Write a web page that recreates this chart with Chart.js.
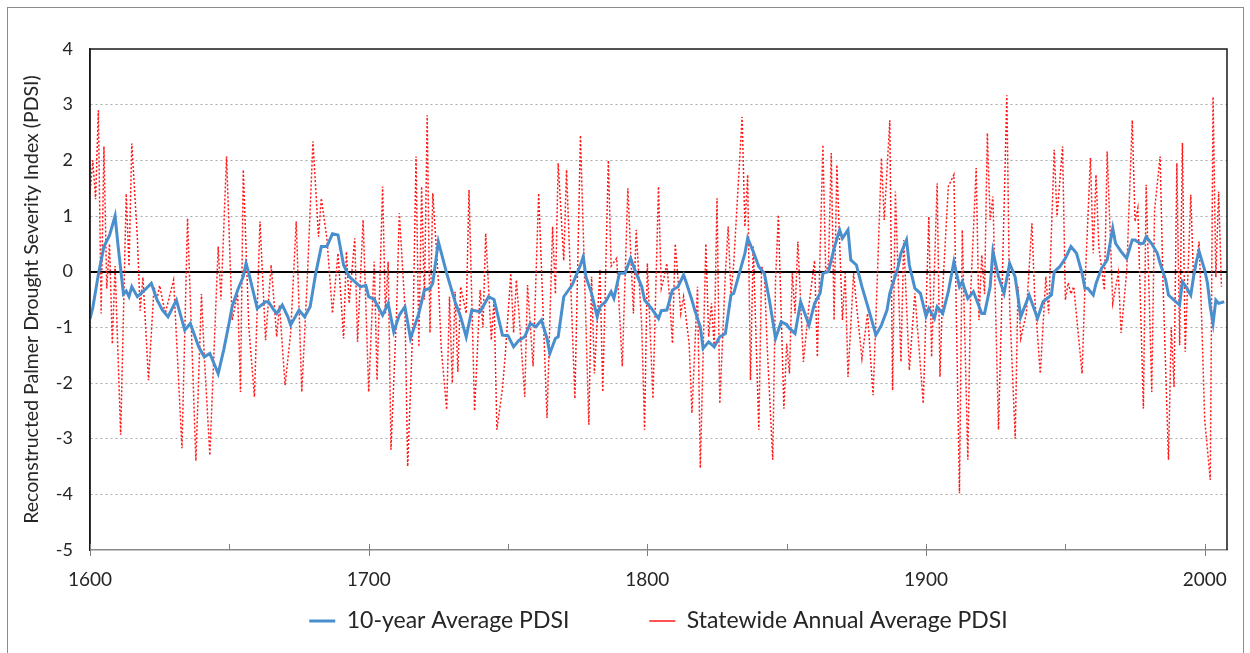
<!DOCTYPE html>
<html>
<head>
<meta charset="utf-8">
<script src="https://cdn.jsdelivr.net/npm/chart.js@4.4.1/dist/chart.umd.min.js"></script>
<style>
    html, body { margin: 0; padding: 0; background: #fff; }
    #frame { position: absolute; left: 7px; top: 7px; width: 1237px; height: 670px; border: 1px solid #8c8c8c; box-sizing: border-box; }
    #wrap { position: absolute; left: 0; top: 0; width: 1250px; height: 653px; }
</style>
</head>
<body>
<div id="frame"></div>
<div id="wrap"><canvas id="pdsiChart" width="1250" height="653"></canvas></div>
<script>
// Statewide annual average PDSI (turning points)
const annualYears = [
    1600, 1601, 1602, 1603, 1604, 1605, 1606, 1607, 1608, 1609, 1611, 1613, 1614, 1615, 1617, 1618, 1619, 1621, 1623, 1624,
    1625, 1627, 1630, 1633, 1635, 1638, 1640, 1641, 1643, 1646, 1647, 1649, 1651, 1653, 1654, 1655, 1657, 1659, 1661, 1663,
    1665, 1667, 1668, 1670, 1672, 1674, 1676, 1678, 1680, 1682, 1683, 1685, 1687, 1689, 1691, 1692, 1693, 1695, 1696, 1698,
    1700, 1702, 1703, 1705, 1706, 1707, 1708, 1710, 1711, 1713, 1714, 1716, 1717, 1718, 1719, 1720, 1721, 1722, 1723, 1725,
    1726, 1728, 1729, 1730, 1731, 1732, 1733, 1735, 1736, 1738, 1740, 1741, 1742, 1744, 1745, 1746, 1748, 1749, 1751, 1752,
    1753, 1754, 1756, 1757, 1759, 1761, 1764, 1766, 1767, 1768, 1770, 1771, 1774, 1776, 1779, 1780, 1781, 1783, 1784, 1786,
    1787, 1789, 1791, 1793, 1795, 1796, 1798, 1799, 1800, 1802, 1804, 1805, 1806, 1807, 1808, 1809, 1810, 1812, 1813, 1815,
    1816, 1818, 1819, 1821, 1822, 1823, 1824, 1825, 1826, 1828, 1829, 1830, 1831, 1834, 1835, 1836, 1837, 1838, 1840, 1841,
    1842, 1843, 1845, 1846, 1847, 1849, 1850, 1851, 1852, 1853, 1854, 1856, 1858, 1860, 1861, 1863, 1864, 1865, 1866, 1867,
    1868, 1870, 1871, 1872, 1874, 1875, 1877, 1879, 1881, 1882, 1884, 1885, 1887, 1888, 1889, 1891, 1892, 1894, 1896, 1899,
    1901, 1902, 1904, 1905, 1906, 1908, 1910, 1912, 1913, 1915, 1916, 1918, 1919, 1920, 1921, 1922, 1923, 1924, 1926, 1927,
    1929, 1930, 1932, 1933, 1934, 1936, 1938, 1939, 1941, 1943, 1944, 1946, 1947, 1949, 1950, 1951, 1952, 1953, 1956, 1957,
    1959, 1960, 1961, 1962, 1964, 1965, 1967, 1969, 1970, 1972, 1974, 1975, 1976, 1978, 1979, 1981, 1982, 1984, 1985, 1987,
    1988, 1989, 1990, 1991, 1992, 1993, 1995, 1996, 1998, 1999, 2000, 2002, 2003, 2004, 2005, 2006
];
const annualPdsi = [
    1.4, 2.0, 1.3, 2.9, -0.75, 2.25, -0.3, 0.5, -1.3, 0.1, -2.93, 1.4, 0.1, 2.3, 0.6, -0.7, -0.1, -1.95, -0.27, -0.5,
    -0.25, -0.75, -0.15, -3.17, 0.96, -3.4, -0.4, -1.5, -3.3, 0.45, -0.5, 2.07, -0.87, -0.4, -2.16, 1.83, -1.0, -2.25, 0.9, -1.23,
    0.12, -1.17, -0.6, -2.04, -1.1, 0.9, -2.16, -0.1, 2.34, 0.63, 1.32, 0.6, -0.75, 0.33, -1.2, 0.36, -0.57, 0.6, -1.26, 0.93,
    -2.16, 0.18, -1.95, 1.53, -0.75, 0.18, -3.2, -0.75, 1.05, -0.63, -3.5, -0.75, 2.07, -1.35, 1.53, -0.5, 2.81, -1.1, 1.41, -0.15,
    -1.35, -2.48, -0.45, -2.0, -0.36, -1.8, -0.27, -0.75, 1.47, -2.5, -0.33, -1.0, 0.69, -1.23, -0.5, -2.84, -2.1, -1.5, -0.03, -1.1,
    -0.15, -0.8, -2.25, -0.24, -1.7, 1.41, -2.63, 0.81, -0.4, 1.95, 0.2, 1.83, -2.28, 2.45, -2.75, -0.09, -1.83, 0.03, -2.16, 2.0,
    0.1, 0.24, -1.7, 1.5, -0.75, 0.75, -1.0, -2.84, 0.15, -2.28, 1.53, -0.3, -0.1, 0.15, -0.5, -1.29, 0.5, -0.75, -0.45, -1.3,
    -2.54, -0.27, -3.53, 0.5, -1.17, -0.57, -1.35, 1.32, -2.37, -0.03, 0.81, -0.4, 0.15, 2.78, 0.81, 1.74, -1.95, 0.45, -2.84, 0.09,
    -0.03, -1.35, -3.38, -0.15, 1.02, -2.46, -1.29, -1.83, -0.03, -0.75, 0.54, -1.62, -0.6, 0.2, -1.53, 2.28, -0.03, 0.15, 2.13, -0.87,
    1.92, -0.87, -0.03, -1.89, -0.03, -0.57, -1.56, -0.75, -2.22, -0.87, 2.04, 0.93, 2.72, -2.13, 1.44, -1.62, 0.57, -1.77, -0.39, -2.37,
    0.99, -1.53, 1.59, -1.89, -0.3, 1.53, 1.74, -3.98, 0.75, -3.38, -0.4, 1.86, -0.87, 0.3, -0.4, 2.49, 0.93, 1.35, -2.84, -0.9,
    3.17, -0.6, -3.0, -0.27, -1.2, -0.75, 0.87, -0.45, -1.83, -0.09, -0.75, 2.19, 1.0, 2.25, -0.51, -0.2, -0.4, -0.27, -1.83, -0.3,
    2.04, 0.33, 1.74, 0.45, -0.33, 2.16, -0.57, -0.02, -1.1, 0.0, 2.72, 0.9, 1.14, -2.46, 1.56, -2.16, 1.1, 2.07, -0.15, -3.38,
    -1.0, -2.07, 1.95, -1.32, 2.31, -1.44, 1.38, -0.15, 0.54, -1.0, -2.66, -3.74, 3.14, -0.1, 1.44, -0.27
];

// 10-year average PDSI
const avgYears = [
    1600, 1601, 1603, 1605, 1607, 1609, 1610, 1612, 1613, 1614, 1615, 1617, 1619, 1622, 1624, 1626, 1628, 1631, 1634, 1636,
    1639, 1641, 1643, 1646, 1648, 1650, 1651, 1653, 1655, 1656, 1657, 1660, 1663, 1664, 1666, 1667, 1669, 1671, 1672, 1675,
    1677, 1679, 1681, 1683, 1685, 1687, 1689, 1691, 1693, 1695, 1697, 1699, 1700, 1702, 1705, 1707, 1709, 1711, 1713, 1715,
    1718, 1720, 1722, 1723, 1725, 1728, 1731, 1733, 1735, 1737, 1740, 1743, 1745, 1748, 1750, 1752, 1754, 1756, 1758, 1760,
    1762, 1764, 1765, 1767, 1768, 1770, 1773, 1774, 1776, 1777, 1778, 1780, 1782, 1783, 1785, 1787, 1788, 1790, 1792, 1794,
    1796, 1798, 1799, 1801, 1804, 1805, 1807, 1809, 1811, 1813, 1814, 1816, 1817, 1819, 1820, 1822, 1824, 1826, 1828, 1830,
    1831, 1833, 1835, 1836, 1838, 1840, 1842, 1844, 1846, 1848, 1850, 1851, 1853, 1855, 1858, 1860, 1862, 1863, 1865, 1867,
    1869, 1870, 1872, 1873, 1875, 1877, 1880, 1882, 1884, 1886, 1887, 1890, 1891, 1893, 1894, 1896, 1898, 1900, 1901, 1903,
    1904, 1906, 1908, 1910, 1912, 1913, 1915, 1917, 1920, 1921, 1923, 1924, 1926, 1928, 1930, 1932, 1934, 1937, 1940, 1942,
    1945, 1946, 1948, 1950, 1952, 1954, 1956, 1957, 1958, 1960, 1961, 1963, 1965, 1967, 1968, 1970, 1972, 1974, 1975, 1977,
    1978, 1979, 1981, 1983, 1984, 1986, 1987, 1989, 1991, 1992, 1993, 1995, 1996, 1997, 1998, 2000, 2001, 2002, 2003, 2004,
    2005, 2007
];
const avgPdsi = [
    -0.85, -0.65, -0.05, 0.45, 0.65, 1.0, 0.5, -0.4, -0.35, -0.45, -0.27, -0.45, -0.36, -0.21, -0.5, -0.69, -0.81, -0.51, -1.05, -0.93,
    -1.35, -1.53, -1.47, -1.83, -1.4, -0.9, -0.63, -0.33, -0.09, 0.15, -0.03, -0.66, -0.54, -0.54, -0.69, -0.75, -0.6, -0.81, -0.96, -0.69,
    -0.81, -0.63, -0.03, 0.45, 0.45, 0.68, 0.66, 0.12, -0.09, -0.18, -0.27, -0.25, -0.45, -0.5, -0.78, -0.57, -1.08, -0.78, -0.63, -1.2,
    -0.75, -0.33, -0.3, -0.21, 0.54, -0.03, -0.54, -0.81, -1.17, -0.69, -0.72, -0.45, -0.5, -1.14, -1.15, -1.35, -1.23, -1.17, -0.93, -0.99,
    -0.87, -1.2, -1.47, -1.2, -1.17, -0.45, -0.24, -0.12, 0.12, 0.27, -0.1, -0.39, -0.81, -0.63, -0.54, -0.36, -0.48, -0.03, -0.03, 0.24,
    -0.03, -0.27, -0.51, -0.63, -0.84, -0.7, -0.69, -0.33, -0.27, -0.06, -0.2, -0.51, -0.69, -0.99, -1.38, -1.26, -1.35, -1.17, -1.11, -0.42,
    -0.39, -0.03, 0.33, 0.6, 0.36, 0.09, -0.03, -0.57, -1.2, -0.9, -0.95, -1.02, -1.11, -0.54, -0.96, -0.57, -0.39, -0.03, 0.0, 0.42,
    0.75, 0.6, 0.75, 0.21, 0.12, -0.27, -0.78, -1.14, -0.96, -0.69, -0.39, 0.09, 0.33, 0.57, 0.12, -0.3, -0.39, -0.8, -0.66, -0.84,
    -0.63, -0.75, -0.36, 0.18, -0.27, -0.18, -0.48, -0.36, -0.75, -0.75, -0.27, 0.36, -0.09, -0.39, 0.15, -0.1, -0.81, -0.42, -0.84, -0.54,
    -0.42, 0.0, 0.09, 0.24, 0.45, 0.33, -0.03, -0.3, -0.3, -0.42, -0.21, 0.06, 0.21, 0.78, 0.51, 0.36, 0.24, 0.57, 0.57, 0.5,
    0.51, 0.63, 0.5, 0.33, 0.15, -0.15, -0.42, -0.51, -0.6, -0.18, -0.25, -0.42, -0.09, 0.18, 0.36, 0.03, -0.21, -0.63, -0.93, -0.51,
    -0.57, -0.54
];

const majorTickYears = [1600, 1700, 1800, 1900, 2000];
const minorTickYears = [1650, 1750, 1850, 1950];

const fontFamily = 'Lato, "Liberation Sans", sans-serif';
const textColor = '#262626';

// plot frame (top/left/right) and the axis tick marks
const frameAndTicks = {
    id: 'frameAndTicks',
    afterDraw(chart) {
        const { ctx, chartArea: a, scales: { x } } = chart;
        ctx.save();
        ctx.strokeStyle = '#1a1a1a';
        ctx.lineWidth = 1.5;
        ctx.beginPath();
        ctx.moveTo(a.left, a.bottom);
        ctx.lineTo(a.left, a.top);
        ctx.lineTo(a.right, a.top);
        ctx.lineTo(a.right, a.bottom);
        ctx.stroke();

        ctx.strokeStyle = '#808080';
        ctx.lineWidth = 1;
        majorTickYears.concat(minorTickYears).forEach(yr => {
            const px = Math.round(x.getPixelForValue(yr)) + 0.5;
            const major = majorTickYears.includes(yr);
            ctx.beginPath();
            ctx.moveTo(px, a.bottom - 6);
            ctx.lineTo(px, a.bottom + (major ? 6 : 0));
            ctx.stroke();
        });
        ctx.restore();
    }
};

const ctx = document.getElementById('pdsiChart').getContext('2d');
const pdsiChart = new Chart(ctx, {
    type: 'line',
    data: {
        datasets: [
            {
                label: '10-year Average PDSI',
                data: avgYears.map((yr, i) => ({ x: yr, y: avgPdsi[i] })),
                borderColor: '#4a8fcd',
                borderWidth: 3,
                pointRadius: 0,
                tension: 0
            },
            {
                label: 'Statewide Annual Average PDSI',
                data: annualYears.map((yr, i) => ({ x: yr, y: annualPdsi[i] })),
                borderColor: '#ff1a1a',
                borderWidth: 1.5,
                borderDash: [2, 2],
                pointRadius: 0,
                tension: 0
            }
        ]
    },
    options: {
        responsive: false,
        animation: false,
        layout: { padding: { left: 14, right: 23, top: 49, bottom: 10.5 } },
        scales: {
            x: {
                type: 'linear',
                min: 1600,
                max: 2008,
                afterBuildTicks(scale) {
                    scale.ticks = majorTickYears.map(v => ({ value: v }));
                },
                ticks: {
                    maxRotation: 0,
                    autoSkip: false,
                    padding: 18,
                    color: textColor,
                    font: { family: fontFamily, size: 19 },
                    callback: v => String(v)
                },
                grid: { display: false, drawTicks: false },
                border: { display: true, color: '#8a8a8a', width: 1.5 },
                afterFit(scale) { scale.height = 48; }
            },
            y: {
                min: -5,
                max: 4,
                ticks: {
                    stepSize: 1,
                    padding: 17,
                    color: textColor,
                    font: { family: fontFamily, size: 18 }
                },
                grid: {
                    drawTicks: false,
                    color: c => c.tick.value === 0 ? '#000000'
                        : (c.tick.value === -5 || c.tick.value === 4 ? 'rgba(0,0,0,0)' : '#a8a8a8'),
                    lineWidth: c => c.tick.value === 0 ? 2 : 1
                },
                border: {
                    display: true,
                    color: '#1a1a1a',
                    width: 1.5,
                    dash: c => (c.tick && c.tick.value === 0) ? [] : [2, 3]
                },
                title: {
                    display: true,
                    text: 'Reconstructed Palmer Drought Severity Index (PDSI)',
                    color: textColor,
                    font: { family: fontFamily, size: 19.5 },
                    padding: { top: 6, bottom: 0 }
                },
                afterFit(scale) { scale.width = 76; }
            }
        },
        plugins: {
            legend: {
                position: 'bottom',
                fullSize: false,
                // empty title with negative padding pulls the wide-spaced items up under the axis
                title: { display: true, text: '', font: { size: 1 }, padding: { top: -69.7, bottom: 0 } },
                labels: {
                    usePointStyle: true,
                    pointStyle: 'line',
                    pointStyleWidth: 26,
                    boxWidth: 26,
                    color: textColor,
                    font: { family: fontFamily, size: 23 },
                    padding: 80
                }
            },
            tooltip: { enabled: false }
        }
    },
    plugins: [frameAndTicks]
});
</script>
</body>
</html>
